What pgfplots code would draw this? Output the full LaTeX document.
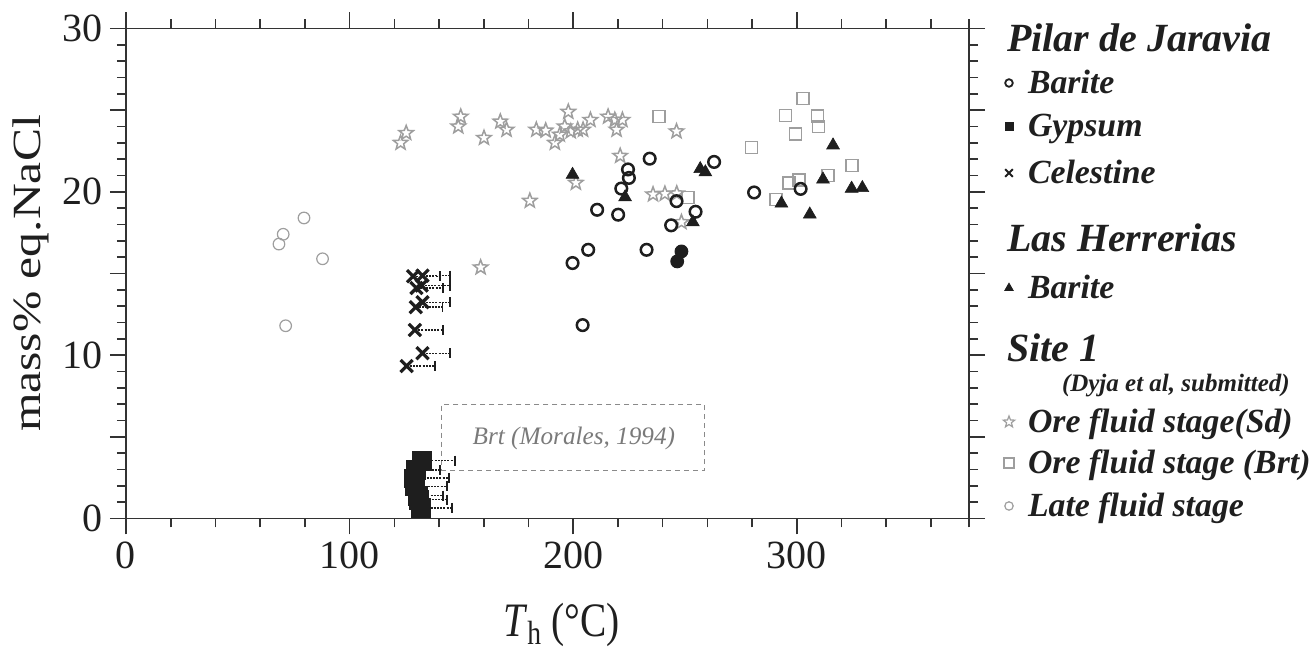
\documentclass[border=0pt]{standalone}
\usepackage{pgfplots}
\pgfplotsset{compat=1.18}
\usepackage{fontspec}
\setmainfont{Liberation Serif}
\usepackage{graphicx}

\definecolor{axgray}{HTML}{333333}
\definecolor{lgray}{HTML}{9E9E9E}
\definecolor{mblack}{HTML}{1E1E1E}
\definecolor{rectgray}{HTML}{8A8A8A}
\definecolor{txtgray}{HTML}{7A7A7A}

\pgfdeclareplotmark{ostar}{%
  \pgfpathmoveto{\pgfpointpolar{90}{\pgfplotmarksize}}%
  \pgfpathlineto{\pgfpointpolar{126}{0.42*\pgfplotmarksize}}%
  \pgfpathlineto{\pgfpointpolar{162}{\pgfplotmarksize}}%
  \pgfpathlineto{\pgfpointpolar{198}{0.42*\pgfplotmarksize}}%
  \pgfpathlineto{\pgfpointpolar{234}{\pgfplotmarksize}}%
  \pgfpathlineto{\pgfpointpolar{270}{0.42*\pgfplotmarksize}}%
  \pgfpathlineto{\pgfpointpolar{306}{\pgfplotmarksize}}%
  \pgfpathlineto{\pgfpointpolar{342}{0.42*\pgfplotmarksize}}%
  \pgfpathlineto{\pgfpointpolar{18}{\pgfplotmarksize}}%
  \pgfpathlineto{\pgfpointpolar{54}{0.42*\pgfplotmarksize}}%
  \pgfpathclose
  \pgfusepathqstroke
}

\newcommand\titlefont{\fontsize{20}{24}\selectfont\bfseries\itshape}
\newcommand\itemfont{\fontsize{16.9}{20}\selectfont\bfseries\itshape}
\newcommand\subfont{\fontsize{12.5}{15}\selectfont\bfseries\itshape}

\pgfplotstableread{
x y
68.4 16.8
70.3 17.4
79.6 18.4
87.9 15.9
71.4 11.8
}\latefluid

\pgfplotstableread{
x y
122.8 23.0
125.3 23.6
148.6 24.0
149.7 24.6
160.1 23.3
167.4 24.3
170.2 23.8
183.5 23.8
187.7 23.75
191.8 23.0
194.0 23.5
196.2 24.0
197.8 24.9
198.9 23.7
202.0 23.8
204.4 23.8
207.7 24.4
215.6 24.6
218.6 24.4
222.0 24.4
219.4 23.8
221.0 22.2
201.2 20.55
180.6 19.45
158.6 15.37
246.2 23.7
235.7 19.84
241.0 19.88
246.3 19.9
248.4 18.14
}\oresd

\pgfplotstableread{
x y
238.3 24.6
279.8 22.7
295.0 24.66
302.8 25.7
299.5 23.54
309.3 24.64
309.8 24.0
251.4 19.65
290.6 19.54
296.6 20.55
300.9 20.71
313.9 21.0
324.7 21.6
}\orebrt

\pgfplotstableread{
x y
234.2 22.03
224.5 21.37
224.9 20.85
221.5 20.2
210.7 18.9
220.1 18.6
246.2 19.43
254.7 18.78
243.8 17.95
263.0 21.83
280.9 19.96
301.7 20.18
206.7 16.45
199.7 15.64
232.8 16.45
204.2 11.84
}\pjbarite

\pgfplotstableread{
x y
248.4 16.35
246.5 15.74
}\pjbaritefilled

\pgfplotstableread{
x y
199.7 21.05
223.2 19.67
256.8 21.4
259.1 21.2
253.5 18.14
316.2 22.85
311.7 20.76
293.1 19.29
305.8 18.62
324.5 20.2
329.3 20.24
}\lhbarite

\pgfplotstableread{
x y ex
128.4 14.83 12.0
132.6 14.87 12.2
129.9 14.11 11.8
132.2 14.26 12.6
129.6 12.94 12.0
132.6 13.24 12.2
129.2 11.54 12.6
132.6 10.12 12.2
125.5 9.33 12.6
}\celestine

\pgfplotstableread{
x y ex
132.3 3.54 14.8
129.6 2.97 10.8
128.7 2.47 15.8
129.2 1.97 14.3
130.5 1.40 11.3
131.0 1.15 12.6
131.9 0.65 14.0
}\gypsum

\begin{document}
\begin{tikzpicture}
\path[use as bounding box] (-63pt,-66.75pt) rectangle (594pt,259.25pt);
\begin{axis}[
  at={(0pt,0pt)}, anchor=south west,
  scale only axis, width=421.5pt, height=245pt,
  xmin=0, xmax=377, ymin=0, ymax=30,
  axis line style={axgray, line width=0.9pt},
  tick align=outside,
  major tick length=8pt, minor tick length=4.5pt,
  every tick/.style={axgray, line width=0.8pt},
  xtick={0,100,200,300},
  minor xtick={20,40,60,80,120,140,160,180,220,240,260,280,320,340,360,377},
  ytick={0,10,20,30},
  minor ytick={1,2,...,29},
  extra y ticks={5,15,25}, extra y tick labels={},
  tick label style={font=\fontsize{20}{24}\selectfont, text=black!88},
  /pgf/number format/assume math mode=true,
  xlabel={\scalebox{0.82}[1]{\textit{T}\textsubscript{h} (°C)}},
  ylabel={\scalebox{1.24}[1]{mass\% eq.NaCl}},
  xlabel style={at={(axis description cs:0.5166,-0.2418)}, anchor=base, font=\fontsize{24}{28}\selectfont, text=black!88},
  ylabel style={at={(axis description cs:-0.102,0.5)}, anchor=base, font=\fontsize{20}{24}\selectfont, text=black!88},
  legend style={draw=none, fill=none, inner sep=0pt, outer sep=0pt, row sep=0pt, column sep=0.5pt,
    at={(1.02610,1.01735)}, anchor=north west,
    nodes={inner sep=0pt, outer sep=0pt},
    cells={anchor=base west, inner sep=0pt, outer sep=0pt, text=black!88}},
  legend image code/.code={\path (0pt,0pt) (17pt,0pt); \draw[#1, yshift=5.5pt] plot coordinates {(8.5pt,0pt)};},
]
% Brt (Morales, 1994) box
\addplot[forget plot, mark=none, color=rectgray, line width=0.75pt, dash pattern=on 2.5pt off 2pt]
  coordinates {(141,2.93) (258.8,2.93) (258.8,6.98) (141,6.98) (141,2.93)};
\node[font=\fontsize{12.6}{15}\selectfont\itshape, text=txtgray] at (axis cs:200.3,4.92) {Brt (Morales, 1994)};

% Site 1 (gray)
\addplot[forget plot, only marks, mark=o, mark size=2.9pt, color=lgray, line width=0.6pt] table[x=x,y=y] {\latefluid};
\addplot[forget plot, only marks, mark=ostar, mark size=3.8pt, color=lgray, line width=0.75pt] table[x=x,y=y] {\oresd};
\addplot[forget plot, only marks, mark=square, mark size=3pt, color=lgray, line width=0.75pt] table[x=x,y=y] {\orebrt};

% Pilar de Jaravia barite
\addplot[forget plot, only marks, mark=o, mark size=2.9pt, color=mblack, line width=1.25pt] table[x=x,y=y] {\pjbarite};
\addplot[forget plot, only marks, mark=*, mark size=3.2pt, color=mblack, line width=0.5pt] table[x=x,y=y] {\pjbaritefilled};
% Las Herrerias barite
\addplot[forget plot, only marks, mark=triangle*, mark size=3.7pt, color=mblack, line width=0.3pt] table[x=x,y=y] {\lhbarite};

% Celestine with error bars
\addplot[forget plot, only marks, mark=x, mark size=4.3pt, color=mblack, line width=1.6pt,
  error bars/.cd, x dir=plus, x explicit,
  error bar style={line width=0.7pt, dash pattern=on 1pt off 0.6pt},
  error mark options={solid, rotate=90, line width=0.8pt, mark size=2.5pt}]
  table[x=x, y=y, x error=ex] {\celestine};

% Gypsum with error bars
\addplot[forget plot, only marks, mark=square*, mark size=4.6pt, color=mblack, line width=0.3pt,
  error bars/.cd, x dir=plus, x explicit,
  error bar style={line width=0.7pt, dash pattern=on 1pt off 0.6pt},
  error mark options={solid, rotate=90, line width=0.8pt, mark size=2.5pt}]
  table[x=x, y=y, x error=ex] {\gypsum};

% Legend
\addlegendimage{empty legend}
\addlegendentry{\hspace*{-10.5pt}\titlefont Pilar de Jaravia\rule[-4pt]{0pt}{20pt}}
\addlegendimage{only marks, mark=o, mark size=1.9pt, line width=0.9pt, mblack}
\addlegendentry{\itemfont Barite\rule[-4pt]{0pt}{23.5pt}}
\addlegendimage{only marks, mark=square*, mark size=2pt, mblack}
\addlegendentry{\itemfont Gypsum\rule[-4pt]{0pt}{24pt}}
\addlegendimage{only marks, mark=x, mark size=2.7pt, line width=1pt, mblack}
\addlegendentry{\itemfont Celestine\rule[-4pt]{0pt}{26pt}}
\addlegendimage{empty legend}
\addlegendentry{\hspace*{-10.5pt}\titlefont Las Herrerias\rule[-4pt]{0pt}{36.5pt}}
\addlegendimage{only marks, mark=triangle*, mark size=2.4pt, mblack}
\addlegendentry{\itemfont Barite\rule[-4pt]{0pt}{26pt}}
\addlegendimage{empty legend}
\addlegendentry{\hspace*{-10.5pt}\titlefont Site 1\rule[-4pt]{0pt}{34pt}}
\addlegendimage{empty legend}
\addlegendentry{\hspace*{17pt}\subfont (Dyja et al, submitted)\rule[-4pt]{0pt}{17.5pt}}
\addlegendimage{only marks, mark=ostar, mark size=3pt, line width=0.6pt, lgray}
\addlegendentry{\itemfont Ore fluid stage(Sd)\rule[-4pt]{0pt}{23pt}}
\addlegendimage{only marks, mark=square, mark size=2.5pt, line width=0.6pt, lgray}
\addlegendentry{\itemfont Ore fluid stage (Brt)\rule[-4pt]{0pt}{23pt}}
\addlegendimage{only marks, mark=o, mark size=2.1pt, line width=0.6pt, lgray}
\addlegendentry{\itemfont Late fluid stage\rule[-4pt]{0pt}{24pt}}
\end{axis}
\end{tikzpicture}
\end{document}
